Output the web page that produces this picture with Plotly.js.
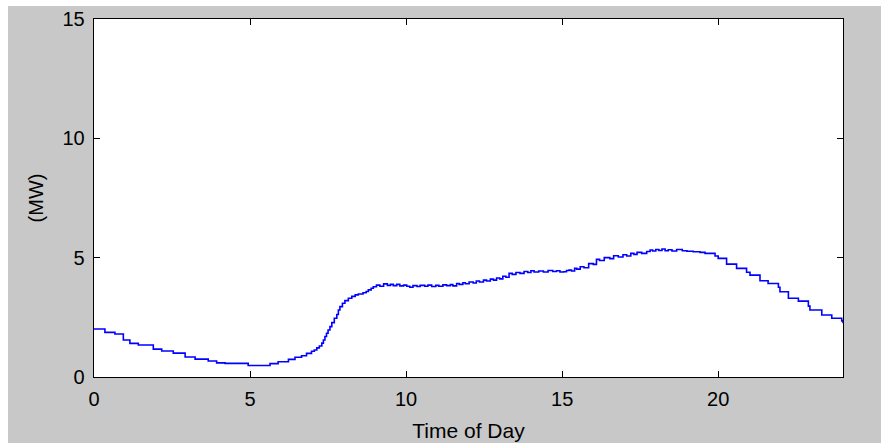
<!DOCTYPE html>
<html>
<head>
<meta charset="utf-8">
<script src="https://cdn.plot.ly/plotly-3.0.1.min.js"></script>
<style>
html,body{margin:0;padding:0;background:#ffffff;width:881px;height:443px;overflow:hidden;}
#chart{position:absolute;left:8px;top:6px;width:873px;height:437px;}
</style>
</head>
<body>
<div id="chart"></div>
<script>
// Time of day (hours) and load (MW)
const hours = [
  0, 0.35, 0.67, 0.94, 1.15, 1.42, 1.90, 2.17, 2.54, 2.92, 3.24, 3.66, 3.93, 4.20, 4.94,
  5.64, 5.90, 6.23, 6.44, 6.65, 6.81, 6.97, 7.06, 7.14, 7.22, 7.30, 7.35, 7.40, 7.45, 7.50,
  7.56, 7.62, 7.70, 7.78, 7.83, 7.88, 7.96, 8.04, 8.15, 8.26, 8.37, 8.47, 8.62, 8.72, 8.79,
  8.88, 8.95, 9.05, 9.16, 9.28, 9.40, 9.50, 9.59, 9.70, 9.80, 9.92, 10.02,
  10.12, 10.22, 10.35, 10.45, 10.60, 10.70, 10.82, 10.95, 11.05, 11.18, 11.30, 11.42, 11.50,
  11.62, 11.70, 11.82, 11.90, 12.02, 12.15, 12.25, 12.35, 12.48, 12.58, 12.70, 12.80, 12.90,
  13.00, 13.10, 13.20, 13.30, 13.40, 13.52, 13.65, 13.78, 13.90, 14.00, 14.10, 14.25, 14.40,
  14.55, 14.70, 14.82, 14.93, 15.05, 15.14, 15.22, 15.30, 15.40, 15.47, 15.58, 15.70, 15.85,
  16.00, 16.10, 16.20, 16.35, 16.53, 16.65, 16.80, 16.95, 17.07, 17.20, 17.30, 17.40, 17.55,
  17.71, 17.82, 17.90, 18.00, 18.10, 18.20, 18.30, 18.40, 18.52, 18.67, 18.85, 19.00, 19.20,
  19.42, 19.58, 19.90, 20.00, 20.27, 20.59, 20.91, 21.02, 21.34, 21.60, 21.93, 21.98, 22.25,
  22.57, 22.89, 22.94, 23.32, 23.64, 23.96, 24.00
];
const loadMW = [
  2.01, 1.87, 1.80, 1.55, 1.41, 1.34, 1.17, 1.09, 1.00, 0.84, 0.75, 0.67, 0.59, 0.57, 0.48,
  0.56, 0.64, 0.74, 0.83, 0.89, 0.99, 1.08, 1.13, 1.22, 1.30, 1.42, 1.55, 1.70, 1.83, 1.97,
  2.11, 2.28, 2.46, 2.62, 2.81, 2.95, 3.09, 3.20, 3.30, 3.38, 3.44, 3.48, 3.53, 3.58, 3.65,
  3.72, 3.78, 3.85, 3.80, 3.90, 3.84, 3.88, 3.83, 3.88, 3.82, 3.85, 3.80, 3.76,
  3.83, 3.79, 3.84, 3.80, 3.85, 3.79, 3.84, 3.80, 3.86, 3.83, 3.87, 3.82, 3.92,
  3.88, 3.95, 3.91, 3.98, 3.94, 4.02, 3.98, 4.06, 4.02, 4.10, 4.06, 4.15, 4.11,
  4.22, 4.18, 4.34, 4.30, 4.38, 4.34, 4.42, 4.38, 4.45, 4.40, 4.44, 4.40, 4.46,
  4.42, 4.45, 4.40, 4.41, 4.46, 4.48, 4.44, 4.55, 4.52, 4.62, 4.58, 4.75, 4.72,
  4.93, 4.88, 5.00, 4.96, 5.08, 5.03, 5.12, 5.07, 5.18, 5.14, 5.22, 5.18, 5.26,
  5.32, 5.28, 5.34, 5.30, 5.36, 5.29, 5.33, 5.28, 5.34, 5.29, 5.27, 5.25, 5.22,
  5.18, 5.07, 4.97, 4.73, 4.55, 4.39, 4.27, 4.03, 3.92, 3.76, 3.57, 3.30, 3.18,
  2.97, 2.81, 2.60, 2.46, 2.35, 2.25, 2.22
];
const xTicks = [0, 5, 10, 15, 20];
const yTicks = [0, 5, 10, 15];
const xLabel = 'Time of Day';
const yLabel = '(MW)';

const fontFam = '"Liberation Sans", Arial, sans-serif';
const axisCommon = {
  showline: true, linecolor: '#000000', linewidth: 1.3, mirror: 'allticks',
  ticks: 'inside', ticklen: 6, tickwidth: 1, tickcolor: '#000000',
  showgrid: false, zeroline: false,
  tickfont: {family: fontFam, size: 20, color: '#000000'}
};
const trace = {
  x: hours, y: loadMW, type: 'scatter', mode: 'lines',
  line: {color: '#0000ff', width: 1.6, shape: 'hv'},
  hoverinfo: 'skip'
};
const layout = {
  width: 873, height: 437,
  paper_bgcolor: '#c8c8c8', plot_bgcolor: '#ffffff',
  margin: {l: 86, r: 38, t: 13, b: 66},
  showlegend: false,
  xaxis: Object.assign({}, axisCommon, {
    range: [0, 24], tickmode: 'array', tickvals: xTicks, ticktext: xTicks.map(String),
    ticklabelstandoff: 4,
    title: {text: xLabel, font: {family: fontFam, size: 21, color: '#000000'}, standoff: 14}
  }),
  yaxis: Object.assign({}, axisCommon, {
    range: [0, 15], tickmode: 'array', tickvals: yTicks, ticktext: yTicks.map(String),
    ticklabelstandoff: 4,
    title: {text: yLabel, font: {family: fontFam, size: 20, color: '#000000'}, standoff: 13}
  })
};
Plotly.newPlot('chart', [trace], layout, {staticPlot: true, displayModeBar: false});
</script>
</body>
</html>
